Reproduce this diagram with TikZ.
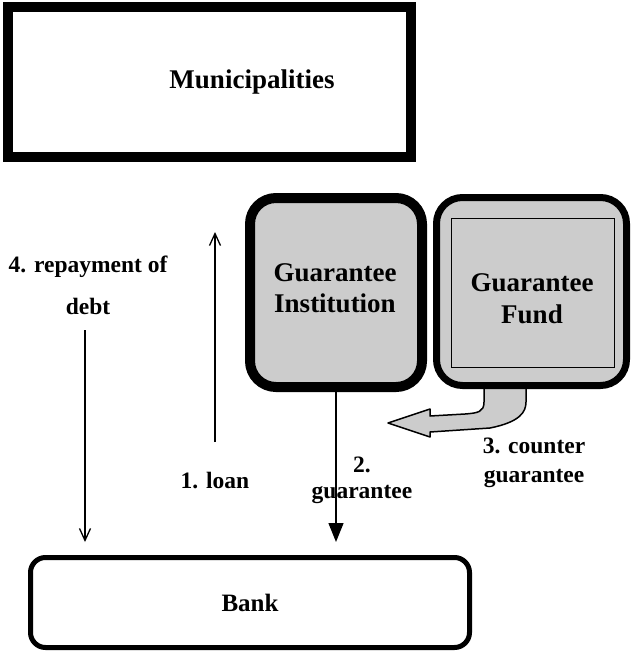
\documentclass[tikz,border=0pt]{standalone}
\usepackage{fontspec}
\setmainfont{Liberation Serif}
\usetikzlibrary{arrows.meta}
\definecolor{boxgray}{gray}{0.8}
\tikzset{
  every node/.style={font=\bfseries},
  munibox/.style={draw, line width=10pt, fill=white, inner sep=0pt},
  instbox/.style={draw, line width=10pt, fill=boxgray, rounded corners=26pt, inner sep=0pt},
  fundbox/.style={draw, line width=7pt, fill=boxgray, rounded corners=26pt, inner sep=0pt},
  innerbox/.style={draw, line width=0.9pt, inner sep=0pt},
  bankbox/.style={draw, line width=5pt, fill=white, rounded corners=15pt, inner sep=0pt},
  boxtext/.style={font=\fontsize{27}{31}\selectfont\bfseries, align=center},
  lbl/.style={font=\fontsize{23.5}{27}\selectfont\bfseries, align=center},
  flow/.style={line width=1.3pt, -{Straight Barb[length=12pt,width=11pt,line width=1.3pt]}},
  guar/.style={line width=1.3pt, -{Triangle[length=19pt,width=15pt]}},
  blockarrow/.style={draw, fill=boxgray, line width=1.5pt, line join=round}
}
\begin{document}
\begin{tikzpicture}[x=1pt,y=-1pt]
\useasboundingbox (0,0) rectangle (632,651);

% top box
\node[munibox, minimum width=403pt, minimum height=150pt] (muni) at (209.5,82) {};
\node[boxtext] (munitext) at (252,82) {Municipalities};

% counter-guarantee block arrow, drawn under the fund box
\path[blockarrow] (484,380) -- (484,402)
  .. controls (484,412) and (478,413) .. (465,414) -- (430,416) -- (430,409)
  -- (388,423) -- (430,437) -- (430,432) -- (490,428)
  .. controls (520,422) and (526,412) .. (526,402) -- (526,380);

% guarantee institution and fund
\node[instbox, minimum width=172pt, minimum height=189pt] (inst) at (336,292.5) {};
\node[boxtext] (insttext) at (335,288) {Guarantee\\Institution};

\node[fundbox, minimum width=190pt, minimum height=188pt] (fund) at (531.5,291.5) {};
\node[innerbox, minimum width=163pt, minimum height=149pt] (fundin) at (532.5,292.5) {};
\node[boxtext, font=\fontsize{27}{32}\selectfont\bfseries] (fundtext) at (532,299) {Guarantee\\Fund};

% bank
\node[bankbox, minimum width=439pt, minimum height=90pt] (bank) at (250,602.5)
  {\fontsize{25}{29}\selectfont Bank};

% flows
\coordinate (loanS) at (215,442);
\coordinate (loanE) at (215,232);
\draw[flow] (loanS) -- (loanE);

\coordinate (repS) at (85,330);
\coordinate (repE) at (85,542);
\draw[flow] (repS) -- (repE);

\coordinate (guarE) at (336,542);
\draw[guar] (inst.south) -- (guarE);

% labels
\node[lbl, font=\fontsize{23.5}{42}\selectfont\bfseries] (lrep) at (88,285) {4. repayment of\\debt};
\node[lbl] (lloan) at (215,481) {1. loan};
\node[lbl, font=\fontsize{23.5}{26}\selectfont\bfseries] (lguar) at (362,480) {2.\\guarantee};
\node[lbl, font=\fontsize{23.5}{29}\selectfont\bfseries] (lcounter) at (534,463) {3. counter\\guarantee};
\end{tikzpicture}
\end{document}
